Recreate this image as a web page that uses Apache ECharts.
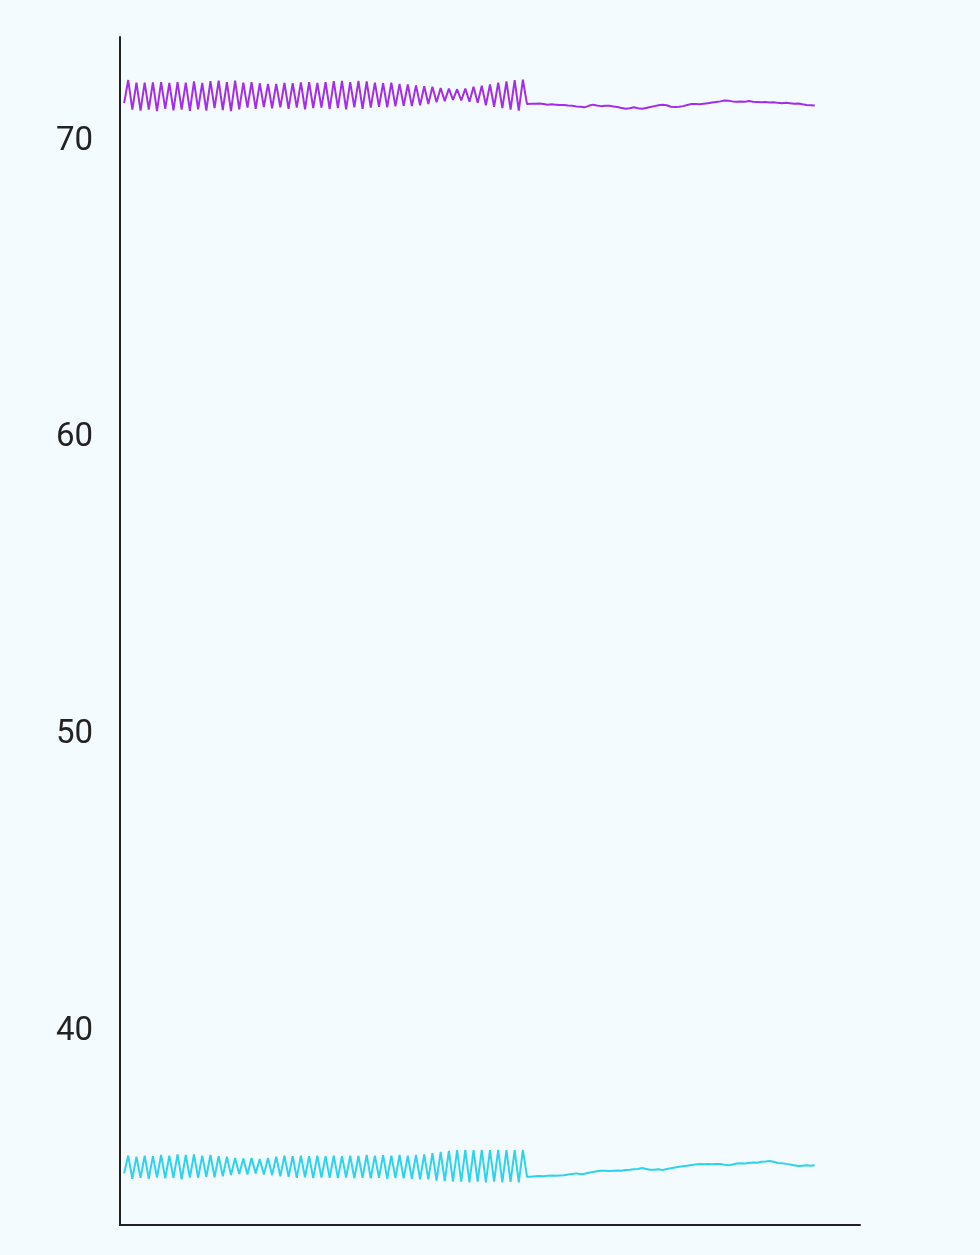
<!DOCTYPE html>
<html>
<head>
<meta charset="utf-8">
<script src="https://cdn.jsdelivr.net/npm/echarts@6/dist/echarts.min.js"></script>
<style>
  html, body { margin: 0; padding: 0; background: #f4fbff; }
  #chart { width: 980px; height: 1255px; }
</style>
</head>
<body>
<div id="chart"></div>
<script>
// y tick labels that are shown
var yTicks = [40, 50, 60, 70];

// purple series: alternating part (x = 1..98) then smooth part (x = 99..169)
var purpleZig = [
  71.17, 71.95, 70.95, 71.86, 70.92, 71.86, 70.95, 71.87, 70.90, 71.88,
  70.98, 71.85, 70.93, 71.88, 70.95, 71.86, 70.91, 71.90, 70.96, 71.85,
  70.92, 71.91, 71.00, 71.93, 70.94, 71.88, 70.90, 71.93, 70.96, 71.86,
  71.02, 71.88, 70.98, 71.84, 71.04, 71.82, 71.00, 71.82, 71.03, 71.85,
  70.98, 71.84, 71.02, 71.87, 70.96, 71.88, 71.00, 71.85, 71.02, 71.88,
  70.97, 71.91, 71.00, 71.92, 70.96, 71.88, 71.03, 71.92, 70.98, 71.90,
  71.02, 71.86, 71.05, 71.84, 71.03, 71.86, 71.06, 71.82, 71.08, 71.80,
  71.07, 71.77, 71.10, 71.74, 71.14, 71.72, 71.20, 71.68, 71.24, 71.66,
  71.28, 71.64, 71.26, 71.66, 71.22, 71.72, 71.18, 71.76, 71.10, 71.80,
  71.05, 71.86, 71.00, 71.90, 70.95, 71.95, 70.92, 71.96
];
var purpleFlat = [
  71.14, 71.15, 71.15, 71.16, 71.14, 71.12, 71.13, 71.12, 71.11, 71.11,
  71.09, 71.08, 71.06, 71.05, 71.03, 71.08, 71.12, 71.09, 71.07, 71.08,
  71.08, 71.06, 71.04, 71.01, 70.98, 71.00, 71.03, 71.00, 70.98, 71.01,
  71.04, 71.07, 71.10, 71.12, 71.10, 71.05, 71.04, 71.05, 71.07, 71.11,
  71.14, 71.14, 71.13, 71.15, 71.17, 71.19, 71.21, 71.23, 71.26, 71.25,
  71.23, 71.22, 71.23, 71.22, 71.24, 71.22, 71.21, 71.20, 71.21, 71.19,
  71.20, 71.18, 71.17, 71.18, 71.17, 71.15, 71.16, 71.13, 71.11, 71.10,
  71.09
];

// cyan series: alternating part (x = 1..98) then smooth part (x = 99..169)
var cyanZig = [
  35.10, 35.70, 34.92, 35.66, 34.95, 35.70, 34.92, 35.68, 34.96, 35.72,
  34.93, 35.70, 34.95, 35.74, 34.90, 35.72, 34.96, 35.74, 34.95, 35.70,
  34.98, 35.72, 34.97, 35.68, 35.00, 35.66, 35.04, 35.62, 35.08, 35.60,
  35.06, 35.62, 35.10, 35.58, 35.06, 35.62, 35.04, 35.66, 35.00, 35.70,
  34.98, 35.68, 34.95, 35.70, 34.97, 35.68, 34.94, 35.70, 34.96, 35.68,
  34.95, 35.70, 34.94, 35.68, 34.96, 35.70, 34.93, 35.69, 34.95, 35.72,
  34.93, 35.70, 34.95, 35.71, 34.92, 35.70, 34.94, 35.72, 34.93, 35.70,
  34.92, 35.72, 34.90, 35.74, 34.90, 35.78, 34.86, 35.82, 34.84, 35.86,
  34.82, 35.88, 34.82, 35.89, 34.80, 35.88, 34.82, 35.89, 34.80, 35.88,
  34.82, 35.89, 34.80, 35.88, 34.81, 35.88, 34.80, 35.89
];
var cyanFlat = [
  34.99, 34.99, 35.00, 35.01, 35.00, 35.02, 35.03, 35.02, 35.03, 35.04,
  35.06, 35.08, 35.10, 35.07, 35.09, 35.12, 35.15, 35.17, 35.19, 35.19,
  35.18, 35.19, 35.20, 35.19, 35.21, 35.22, 35.24, 35.25, 35.28, 35.25,
  35.22, 35.22, 35.24, 35.21, 35.25, 35.27, 35.30, 35.32, 35.34, 35.36,
  35.38, 35.40, 35.42, 35.41, 35.42, 35.41, 35.42, 35.42, 35.39, 35.37,
  35.40, 35.43, 35.44, 35.43, 35.45, 35.47, 35.46, 35.49, 35.50, 35.52,
  35.49, 35.45, 35.44, 35.42, 35.40, 35.37, 35.35, 35.36, 35.37, 35.36,
  35.37
];

function toPoints(values) {
  return values.map(function (v, i) { return [i + 1, v]; });
}

var chart = echarts.init(document.getElementById('chart'));
var option = {
  backgroundColor: '#f4fbff',
  animation: false,
  grid: { left: 120, right: 120, top: 37, bottom: 30 },
  xAxis: {
    type: 'value',
    min: 0,
    max: 180,
    axisLine: { show: true, onZero: false, lineStyle: { color: '#222', width: 2 } },
    axisTick: { show: false },
    axisLabel: { show: false },
    splitLine: { show: false }
  },
  yAxis: {
    type: 'value',
    min: 33.36,
    max: 73.4,
    axisLine: { show: true, onZero: false, lineStyle: { color: '#222', width: 2 } },
    axisTick: { show: false },
    splitLine: { show: false },
    axisLabel: {
      margin: 27,
      showMinLabel: false,
      showMaxLabel: false,
      formatter: function (v) {
        return yTicks.indexOf(v) >= 0 ? '{t|' + v + '}' : '';
      },
      rich: {
        t: {
          fontSize: 33,
          color: '#222',
          fontFamily: 'Roboto',
          padding: [7, 0, 0, 0]
        }
      }
    }
  },
  series: [
    {
      name: 'purple',
      type: 'line',
      data: toPoints(purpleZig.concat(purpleFlat)),
      showSymbol: false,
      lineStyle: { color: '#a42de8', width: 2 },
      itemStyle: { color: '#a42de8' }
    },
    {
      name: 'cyan',
      type: 'line',
      data: toPoints(cyanZig.concat(cyanFlat)),
      showSymbol: false,
      lineStyle: { color: '#2dd3ea', width: 2 },
      itemStyle: { color: '#2dd3ea' }
    }
  ]
};
chart.setOption(option);
</script>
</body>
</html>
